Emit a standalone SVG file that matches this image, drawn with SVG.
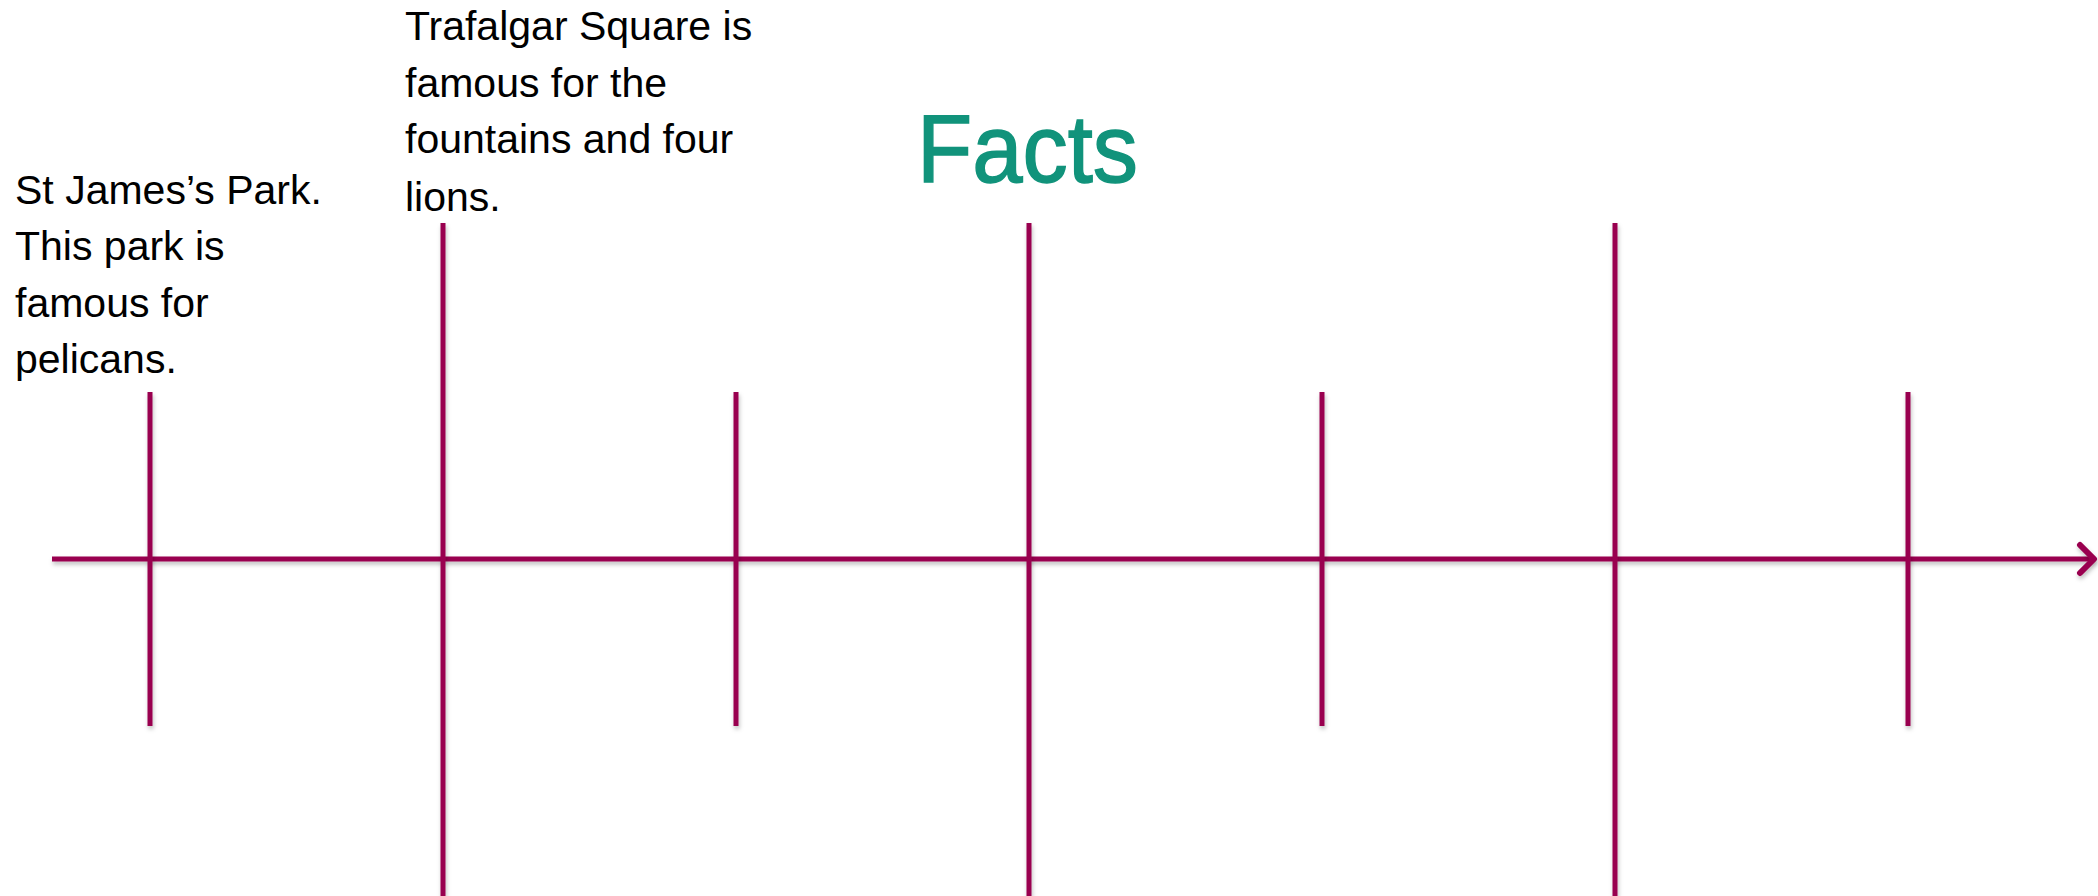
<svg xmlns="http://www.w3.org/2000/svg" width="2098" height="896" viewBox="0 0 2098 896">
<defs>
<style>
.ln{stroke:#99004f;stroke-width:5;fill:none;stroke-linecap:butt;filter:url(#sh)}
.arr{stroke:#99004f;stroke-width:6;fill:none;stroke-linecap:round;stroke-linejoin:round;filter:url(#sh)}
.txt{font-family:"Liberation Sans",Arial,sans-serif;font-size:41px;fill:#000}
.title{font-family:"Liberation Sans",Arial,sans-serif;font-size:96px;fill:#11937b;stroke:#11937b;stroke-width:1.5}
</style>
<filter id="sh" filterUnits="userSpaceOnUse" x="0" y="0" width="2098" height="896">
<feDropShadow dx="1" dy="3" stdDeviation="2" flood-color="#000" flood-opacity="0.25"/>
</filter>
</defs>
<rect width="2098" height="896" fill="#fff"/>
<g id="connectors">
<line class="ln" x1="52" y1="559" x2="2094" y2="559"/>
<polyline class="arr" points="2080,545 2094,559 2080,573"/>
<line class="ln" x1="150" y1="392" x2="150" y2="726"/>
<line class="ln" x1="443" y1="223" x2="443" y2="896"/>
<line class="ln" x1="736" y1="392" x2="736" y2="726"/>
<line class="ln" x1="1029" y1="223" x2="1029" y2="896"/>
<line class="ln" x1="1322" y1="392" x2="1322" y2="726"/>
<line class="ln" x1="1615" y1="223" x2="1615" y2="896"/>
<line class="ln" x1="1908" y1="392" x2="1908" y2="726"/>
</g>
<g id="title">
<text class="title" x="917" y="182" textLength="221" lengthAdjust="spacingAndGlyphs">Facts</text>
</g>
<g id="st-james">
<text class="txt" x="15" y="204">St James’s Park.</text>
<text class="txt" x="15" y="260">This park is</text>
<text class="txt" x="15" y="317">famous for</text>
<text class="txt" x="15" y="373">pelicans.</text>
</g>
<g id="trafalgar">
<text class="txt" x="405" y="40">Trafalgar Square is</text>
<text class="txt" x="405" y="97">famous for the</text>
<text class="txt" x="405" y="153">fountains and four</text>
<text class="txt" x="405" y="211">lions.</text>
</g>
</svg>
